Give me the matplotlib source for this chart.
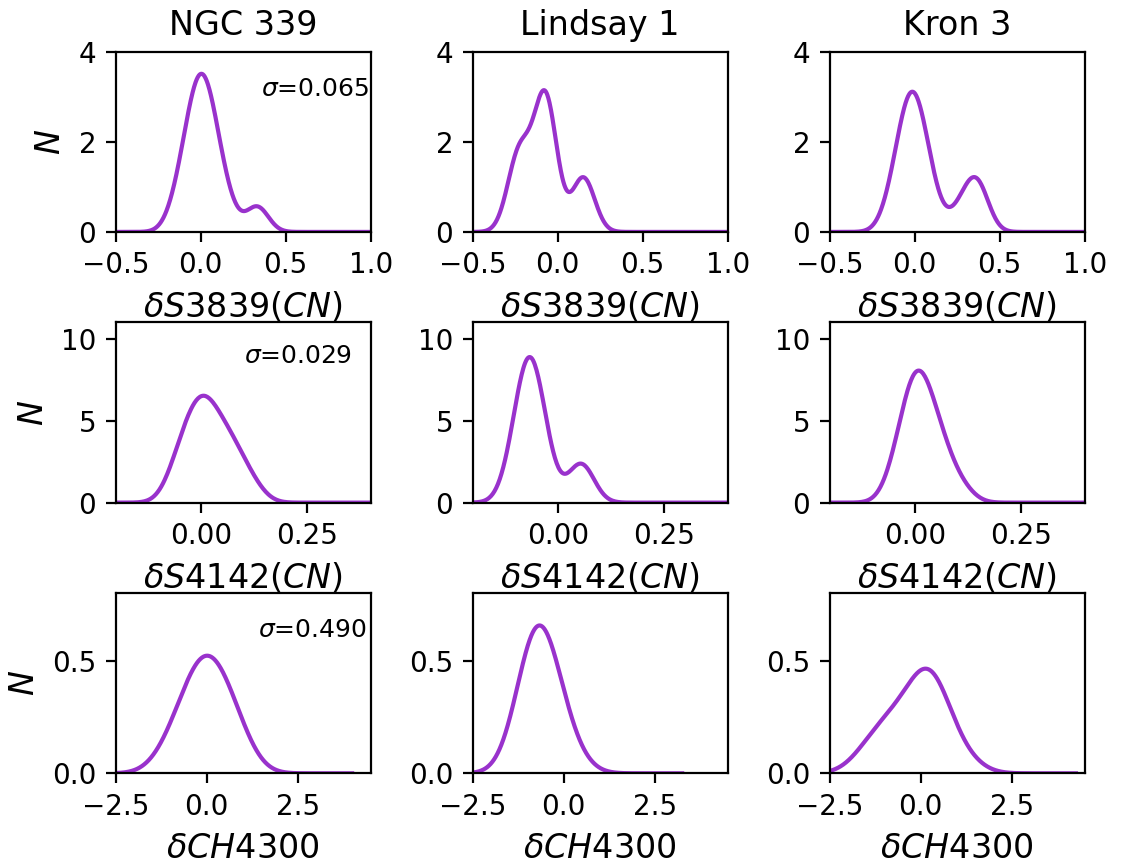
import numpy as np
import matplotlib
matplotlib.use("Agg")
import matplotlib.pyplot as plt

clusters = ["NGC 339", "Lindsay 1", "Kron 3"]
index_labels = [r"$\delta S3839(CN)$", r"$\delta S4142(CN)$", r"$\delta CH4300$"]
bandwidths = [0.065, 0.029, 0.490]
sigma_text = ["0.065", "0.029", "0.490"]

# Index measurements per star, one list per cluster and index
s3839_ngc339 = [-0.152, -0.110, -0.087, -0.070, -0.055, -0.043, -0.031, -0.021,
                -0.010, 0.000, 0.010, 0.020, 0.031, 0.041, 0.053, 0.065, 0.080,
                0.097, 0.125, 0.170, 0.325, 0.340]
s3839_lindsay1 = [-0.260, -0.250, -0.240, -0.230, -0.225, -0.220, -0.210, -0.200,
                  -0.190, -0.100, -0.095, -0.090, -0.085, -0.080, -0.078, -0.075,
                  -0.072, -0.070, -0.068, -0.065, -0.060, -0.055, -0.050, -0.040,
                  0.130, 0.140, 0.150, 0.155, 0.160, 0.170]
s3839_kron3 = [-0.155, -0.118, -0.098, -0.083, -0.070, -0.059, -0.049, -0.040,
               -0.031, -0.023, -0.014, -0.005, 0.003, 0.012, 0.021, 0.031, 0.042,
               0.055, 0.070, 0.090, 0.127, 0.250, 0.290, 0.330, 0.355, 0.370,
               0.380, 0.395]

s4142_ngc339 = [-0.072, -0.056, -0.048, -0.042, -0.036, -0.030, -0.024, -0.018,
                -0.012, -0.007, -0.003, 0.001, 0.004, 0.008, 0.012, 0.017, 0.022,
                0.027, 0.033, 0.039, 0.045, 0.051, 0.057, 0.065, 0.072, 0.080,
                0.088, 0.098, 0.111, 0.132]
s4142_lindsay1 = [-0.112, -0.101, -0.094, -0.090, -0.086, -0.082, -0.079, -0.076,
                  -0.074, -0.071, -0.069, -0.066, -0.063, -0.061, -0.058, -0.056,
                  -0.053, -0.050, -0.046, -0.042, -0.038, -0.031, -0.020, 0.042,
                  0.050, 0.055, 0.060, 0.068]
s4142_kron3 = [-0.055, -0.042, -0.034, -0.027, -0.021, -0.016, -0.012, -0.008,
               -0.004, -0.001, 0.002, 0.005, 0.008, 0.011, 0.015, 0.019, 0.023,
               0.027, 0.032, 0.037, 0.042, 0.048, 0.054, 0.061, 0.069, 0.079,
               0.092, 0.118]

ch4300_ngc339 = [-1.15, -0.85, -0.68, -0.55, -0.45, -0.36, -0.27, -0.19, -0.08,
                 -0.03, 0.03, 0.08, 0.19, 0.27, 0.36, 0.45, 0.56, 0.70, 0.84, 0.99]
ch4300_lindsay1 = [-1.196, -1.080, -1.012, -0.960, -0.914, -0.871, -0.828, -0.782,
                   -0.737, -0.690, -0.643, -0.593, -0.540, -0.484, -0.422, -0.354,
                   -0.275, -0.176, -0.046, 0.250]
ch4300_kron3 = [-1.600, -1.280, -1.080, -0.920, -0.740, -0.480, -0.450, -0.234,
                -0.109, -0.013, 0.069, 0.144, 0.215, 0.285, 0.356, 0.431, 0.513,
                0.609, 0.800, 1.260]

rows = [
    [s3839_ngc339, s3839_lindsay1, s3839_kron3],
    [s4142_ngc339, s4142_lindsay1, s4142_kron3],
    [ch4300_ngc339, ch4300_lindsay1, ch4300_kron3],
]

x_limits = [(-0.5, 1.0), (-0.2, 0.4), (-2.5, 4.5)]
y_limits = [(0, 4), (0, 11), (0, 0.8)]
x_ticks = [[-0.5, 0.0, 0.5, 1.0], [0.0, 0.25], [-2.5, 0.0, 2.5]]
y_ticks = [[0, 2, 4], [0, 5, 10], [0.0, 0.5]]
x_fmt = ["{:.1f}", "{:.2f}", "{:.1f}"]
y_fmt = ["{:.0f}", "{:.0f}", "{:.1f}"]
sigma_pos = [(0.570, 0.752), (0.503, 0.774), (0.558, 0.754)]

line_color = "#9932CC"


def gaussian_kde(values, bw, n=3000):
    """Gaussian kernel density of the values, evaluated 3 units past the data range."""
    v = np.asarray(values, dtype=float)
    grid = np.linspace(v.min() - 3.0, v.max() + 3.0, n)
    z = (grid[:, None] - v[None, :]) / bw
    dens = np.exp(-0.5 * z ** 2).sum(axis=1) / (len(v) * bw * np.sqrt(2 * np.pi))
    return grid, dens


DPI = 200
fig, axes = plt.subplots(3, 3, figsize=(1121 / DPI, 864 / DPI), dpi=DPI)
fig.subplots_adjust(left=115.7 / 1121, right=1084.7 / 1121,
                    top=1 - 51.7 / 864, bottom=1 - 773.3 / 864,
                    wspace=0.40, hspace=0.502)

for r in range(3):
    for c in range(3):
        ax = axes[r, c]
        grid, dens = gaussian_kde(rows[r][c], bandwidths[r])
        ax.plot(grid, dens, color=line_color, lw=1.5)
        ax.set_xlim(*x_limits[r])
        ax.set_ylim(*y_limits[r])
        ax.set_xticks(x_ticks[r])
        ax.set_xticklabels([x_fmt[r].format(t).replace("-", "\u2212") for t in x_ticks[r]])
        ax.set_yticks(y_ticks[r])
        ax.set_yticklabels([y_fmt[r].format(t) for t in y_ticks[r]])
        ax.tick_params(labelsize=10)
        ax.set_xlabel(index_labels[r], fontsize=12)
        if r == 0:
            ax.set_title(clusters[c], fontsize=12)
        if c == 0:
            ax.set_ylabel(r"$N$", fontsize=12)
            px, py = sigma_pos[r]
            ax.text(px, py, r"$\sigma$=" + sigma_text[r], transform=ax.transAxes,
                    ha="left", va="baseline", fontsize=9)

fig.savefig("out.png", dpi=DPI)
